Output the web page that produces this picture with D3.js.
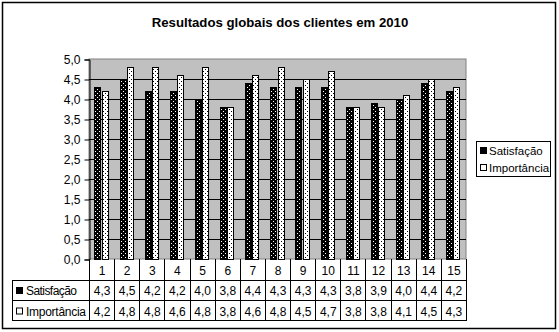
<!DOCTYPE html>
<html>
<head>
<meta charset="utf-8">
<script src="https://cdn.jsdelivr.net/npm/d3@7"></script>
<style>
body { margin: 0; background: #fff; }
text { font-family: "Liberation Sans", Arial, sans-serif; }
</style>
</head>
<body>
<div id="wrapper"></div>
<script>
const categories = ["1","2","3","4","5","6","7","8","9","10","11","12","13","14","15"];
const seriesNames = ["Satisfação", "Importância"];
const satisfacao = [4.3,4.5,4.2,4.2,4.0,3.8,4.4,4.3,4.3,4.3,3.8,3.9,4.0,4.4,4.2];
const importancia = [4.2,4.8,4.8,4.6,4.8,3.8,4.6,4.8,4.5,4.7,3.8,3.8,4.1,4.5,4.3];
const yTicks = [0,0.5,1,1.5,2,2.5,3,3.5,4,4.5,5];
const title = "Resultados globais dos clientes em 2010";

const width = 559, height = 332;
const plot = {left: 89, right: 466, top: 59, bottom: 259};
const fmt = v => d3.format(".1f")(v).replace(".", ",");

const svg = d3.select("#wrapper").append("svg")
  .attr("width", width).attr("height", height);

// patterns
const defs = svg.append("defs");
const pDark = defs.append("pattern").attr("id","pDark")
  .attr("patternUnits","userSpaceOnUse").attr("width",4).attr("height",4);
pDark.append("rect").attr("width",4).attr("height",4).attr("fill","#000");
pDark.append("rect").attr("x",1).attr("y",1).attr("width",1).attr("height",1).attr("fill","#fff");
pDark.append("rect").attr("x",3).attr("y",3).attr("width",1).attr("height",1).attr("fill","#fff");
const pLight = defs.append("pattern").attr("id","pLight")
  .attr("patternUnits","userSpaceOnUse").attr("width",4).attr("height",4);
pLight.append("rect").attr("width",4).attr("height",4).attr("fill","#fff");
pLight.append("rect").attr("x",1).attr("y",1).attr("width",1).attr("height",1).attr("fill","#000");
pLight.append("rect").attr("x",3).attr("y",3).attr("width",1).attr("height",1).attr("fill","#000");
const fills = ["url(#pDark)", "url(#pLight)"];

// outer border
svg.append("rect").attr("x",2.5).attr("y",2.5).attr("width",553).attr("height",326)
  .attr("fill","#fff").attr("stroke","#000").attr("stroke-width",1.5);

svg.append("text").attr("x",280).attr("y",27).attr("text-anchor","middle")
  .attr("font-size",13.2).attr("font-weight","bold").text(title);

const yScale = d3.scaleLinear().domain([0,5]).range([plot.bottom, plot.top]);
const xScale = d3.scaleBand().domain(categories).range([plot.left, plot.right]);
const groupPad = xScale.bandwidth() * (1.5/3.5) / 2;
const xInner = d3.scaleBand().domain([0,1])
  .range([groupPad, xScale.bandwidth() - groupPad]);

// plot background
svg.append("rect").attr("x",plot.left).attr("y",plot.top)
  .attr("width",plot.right-plot.left).attr("height",plot.bottom-plot.top)
  .attr("fill","#c0c0c0").attr("stroke","#808080");

// gridlines
svg.append("g").selectAll("line").data(yTicks.slice(1,-1)).join("line")
  .attr("x1",plot.left).attr("x2",plot.right)
  .attr("y1",d=>Math.round(yScale(d))+0.5).attr("y2",d=>Math.round(yScale(d))+0.5)
  .attr("stroke","#000");

// y axis
const yAxis = svg.append("g").attr("transform",`translate(${plot.left+0.5},0.5)`)
  .call(d3.axisLeft(yScale).tickValues(yTicks).tickFormat(fmt).tickSize(5).tickPadding(4));
yAxis.select(".domain").attr("stroke","#000");
yAxis.selectAll("text").attr("font-size",12).attr("fill","#000")
  .style("font-family","'Liberation Sans', Arial, sans-serif");

// bars
const series = [satisfacao, importancia];
series.forEach((vals, si) => {
  svg.append("g").selectAll("rect").data(vals).join("rect")
    .attr("x",(d,i)=>Math.round(xScale(categories[i]) + xInner(si))+0.5)
    .attr("y",d=>Math.round(yScale(d))+0.5)
    .attr("width",Math.round(xInner.bandwidth())-1)
    .attr("height",d=>plot.bottom-Math.round(yScale(d)))
    .attr("fill",fills[si]).attr("stroke","#000");
});

// data table
const tableLeft = 12;
const t = svg.append("g").attr("stroke","#000").attr("fill","none");
[280.5, 300.5, 320.5].forEach(y => {
  t.append("line").attr("x1",tableLeft).attr("x2",plot.right).attr("y1",y).attr("y2",y);
});
t.append("line").attr("x1",tableLeft+0.5).attr("x2",tableLeft+0.5).attr("y1",280).attr("y2",321);
const edges = categories.map(c => xScale(c)).concat([plot.right]);
t.selectAll("line.v").data(edges).join("line").attr("class","v")
  .attr("x1",d=>Math.round(d)+0.5).attr("x2",d=>Math.round(d)+0.5)
  .attr("y1",plot.bottom).attr("y2",321);

const cx = c => xScale(c) + xScale.bandwidth()/2;
svg.append("g").selectAll("text").data(categories).join("text")
  .attr("x",d=>cx(d)+0.5).attr("y",275).attr("text-anchor","middle")
  .attr("font-size",12).text(d=>d);
series.forEach((vals, si) => {
  svg.append("g").selectAll("text").data(vals).join("text")
    .attr("x",(d,i)=>cx(categories[i])+0.5).attr("y",295 + si*20.5)
    .attr("text-anchor","middle").attr("font-size",12).text(fmt);
  svg.append("rect").attr("x",16.5).attr("y",287.5 + si*20.5)
    .attr("width",6).attr("height",6)
    .attr("fill", si ? "#fff" : "#000").attr("stroke","#000");
  svg.append("text").attr("x",26).attr("y",295 + si*20.5)
    .attr("font-size",12).attr("textLength", si ? 60 : 51).text(seriesNames[si]);
});

// legend
const lg = svg.append("g");
lg.append("rect").attr("x",476.5).attr("y",141.5).attr("width",74).attr("height",35)
  .attr("fill","#fff").attr("stroke","#000");
seriesNames.forEach((name, si) => {
  lg.append("rect").attr("x",480.5).attr("y",147.5 + si*17)
    .attr("width",6).attr("height",6)
    .attr("fill", si ? "#fff" : "#000").attr("stroke","#000");
  lg.append("text").attr("x",489).attr("y",155 + si*17)
    .attr("font-size",11.5).text(name);
});
</script>
</body>
</html>
